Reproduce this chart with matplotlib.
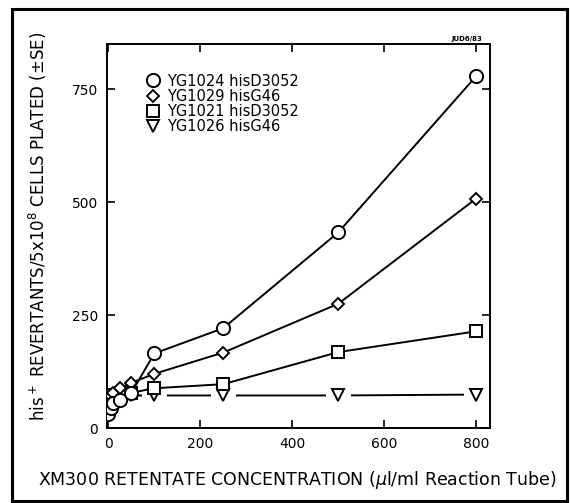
import matplotlib
matplotlib.use("Agg")
import matplotlib.pyplot as plt
from matplotlib.patches import Rectangle

# Data
doses = [0, 5, 10, 25, 50, 100, 250, 500, 800]
yg1024 = [30, 45, 55, 62, 78, 165, 221, 433, 779]
yg1029 = [65, 70, 78, 88, 100, 120, 167, 275, 508]
yg1021 = [65, 68, 72, 75, 78, 88, 97, 168, 214]
yg1026 = [62, 65, 68, 70, 72, 72, 72, 72, 74]

labels = ["YG1024 hisD3052", "YG1029 hisG46", "YG1021 hisD3052", "YG1026 hisG46"]
xticks = [0, 200, 400, 600, 800]
yticks = [0, 250, 500, 750]

plt.rcParams['font.family'] = ['DejaVu Sans']

W, H = 570, 503
L, R, T, B = 107, 490, 44, 428
fig = plt.figure(figsize=(W / 100, H / 100), dpi=100)
ax = fig.add_axes([L / W, 1 - B / H, (R - L) / W, (B - T) / H])

lw = 1.4
mk = dict(markerfacecolor='white', markeredgecolor='black', markeredgewidth=1.4, color='black', lw=lw)

# triangle series: line with gaps around markers (white halos)
ax.plot(doses, yg1026, '-', color='black', lw=lw, zorder=1)
ax.plot(doses[5:], yg1026[5:], 'o', ms=17, markerfacecolor='white', markeredgecolor='white', zorder=1.2)
ax.plot(doses, yg1026, 'v', ms=9, markerfacecolor='white', markeredgecolor='black',
        markeredgewidth=1.4, linestyle='none', zorder=3)

ax.plot(doses, yg1021, '-s', ms=8, zorder=3, **mk)
ax.plot(doses, yg1029, '-D', ms=6.5, zorder=3, **mk)
ax.plot(doses, yg1024, '-o', ms=9.5, zorder=3, **mk)

ax.set_xlim(-3, 830)
ax.set_ylim(0, 850)
ax.set_xticks(xticks)
ax.set_yticks(yticks)
ax.tick_params(direction='in', length=6, width=1.2, top=True, right=True,
               labelsize=10, pad=6.5)
for s in ax.spines.values():
    s.set_linewidth(1.4)

leg_handles = [ax.plot([], [], m, ms=s, markerfacecolor='white', markeredgecolor='black',
                       markeredgewidth=1.4, linestyle='none')[0]
               for m, s in [('o', 9.5), ('D', 6.5), ('s', 8), ('v', 9)]]
leg = ax.legend(leg_handles, labels, loc='upper left',
                bbox_to_anchor=(146 / W, 1 - 73.5 / H), bbox_transform=fig.transFigure,
                frameon=False, fontsize=10.5, handlelength=1.0, handletextpad=0.44,
                labelspacing=0.02, borderpad=0.0, borderaxespad=0.0)

ax.set_ylabel("his$^+$ REVERTANTS/5x10$^8$ CELLS PLATED ($\\pm$SE)", fontsize=12)
ax.yaxis.set_label_coords((49 - L) / (R - L), (B - 226) / (B - T))

fig.text(297 / W, 1 - 480 / H, "XM300 RETENTATE CONCENTRATION ($\\mu$l/ml Reaction Tube)",
         ha='center', va='center', fontsize=12.5)

fig.text(482 / W, 1 - 42 / H, "JUD6/83", ha='right', va='bottom', fontsize=5, fontweight='bold')

# outer frame
fig.patches.append(Rectangle((12 / W, 1 - 501 / H), (567 - 12) / W, (501 - 9) / H,
                             transform=fig.transFigure, fill=False, edgecolor='black', lw=2.2))

fig.savefig("out.png", dpi=100)
